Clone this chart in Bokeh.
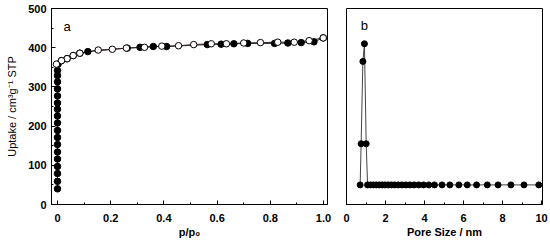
from bokeh.plotting import figure
from bokeh.layouts import row
from bokeh.models import SingleIntervalTicker, CustomJSTickFormatter, Range1d
from bokeh.core.properties import value
from bokeh.embed import file_html
from bokeh.resources import INLINE

# ---- data (panel a: N2 isotherm) ----
ads_p = [0.0]*18 + [0.002, 0.015, 0.036, 0.059, 0.084, 0.114, 0.262, 0.31, 0.36, 0.41,
                    0.563, 0.615, 0.663, 0.715, 0.816, 0.866, 0.916, 0.964, 0.999]
ads_v = [40, 59, 79, 97, 116, 134, 153, 171, 189, 208, 226, 243, 259, 277, 295, 313, 329, 342,
         358, 367, 372, 380, 386, 390, 399, 401, 403, 403,
         408, 409, 410, 411, 411, 412, 413, 415, 425]
des_p = [0.999, 0.946, 0.89, 0.828, 0.763, 0.70, 0.635, 0.578, 0.512, 0.455, 0.392,
         0.327, 0.259, 0.206, 0.153, 0.084, 0.059, 0.036, 0.015, -0.004]
des_v = [425, 418, 414, 414, 413, 412, 410, 410, 408, 405, 404,
         401, 399, 396, 394, 386, 380, 372, 367, 358]

# ---- data (panel b: pore size distribution) ----
psd_d = [0.70, 0.75, 0.84, 0.92, 1.01, 1.08, 1.23, 1.38, 1.53, 1.68, 1.83, 1.98, 2.14, 2.30,
         2.47, 2.65, 2.84, 3.04, 3.25, 3.47, 3.70, 3.95, 4.22, 4.51, 4.90, 5.30, 5.76, 6.19,
         6.67, 7.22, 7.77, 8.43, 9.10, 9.86]
psd_v = [0.10, 0.31, 0.73, 0.82, 0.31] + [0.10]*29

FONT = "Liberation Sans"

def style(p):
    p.outline_line_color = "black"
    p.outline_line_width = 1
    p.xgrid.visible = False
    p.ygrid.visible = False
    p.background_fill_color = "white"
    p.border_fill_color = "white"
    for ax in [p.xaxis[0], p.yaxis[0]]:
        ax.major_tick_in = 4
        ax.major_tick_out = 0
        ax.minor_tick_in = 2
        ax.minor_tick_out = 0
        ax.axis_line_color = "black"
        ax.major_tick_line_color = "black"
        ax.minor_tick_line_color = "black"
        ax.major_label_text_font = FONT
        ax.major_label_text_font_style = "bold"
        ax.major_label_text_font_size = "11px"
        ax.major_label_text_color = "black"
        ax.axis_label_text_font = FONT
        ax.axis_label_text_color = "black"
        ax.axis_label_text_font_size = "11px"

p1 = figure(width=336, height=246, output_backend="svg", toolbar_location=None,
            x_range=Range1d(-0.0226, 1.015), y_range=Range1d(0, 500),
            min_border_left=51, min_border_right=9, min_border_top=8, min_border_bottom=42)
style(p1)
p1.xaxis.ticker = SingleIntervalTicker(interval=0.2, num_minor_ticks=2)
p1.yaxis.ticker = SingleIntervalTicker(interval=100, num_minor_ticks=2)
p1.xaxis.formatter = CustomJSTickFormatter(code="return Math.abs(tick) < 1e-9 ? '0' : tick.toFixed(1);")
p1.xaxis.axis_label = "p/p\u2080"
p1.xaxis.axis_label_text_font_style = "bold"
p1.yaxis.axis_label = "Uptake / cm\u00b3g\u207b\u00b9 STP"
p1.yaxis.axis_label_text_font_style = "normal"
p1.xaxis.major_label_standoff = 9
p1.xaxis.axis_label_standoff = 1
p1.yaxis.major_label_standoff = 5
p1.yaxis.axis_label_standoff = 7

p1.line(ads_p, ads_v, line_color="#222222", line_width=1)
p1.line(des_p, des_v, line_color="#3a2020", line_width=1)
p1.scatter(ads_p, ads_v, size=6.5, fill_color="black", line_color="black", line_width=1)
p1.scatter(des_p, des_v, size=6.5, fill_color="white", line_color="black", line_width=1)
p1.text(x=[0.036], y=[454], text=["a"], text_font=value(FONT), text_font_size="13px",
        text_align="center", text_baseline="middle", text_color="black")

p2 = figure(width=214, height=246, output_backend="svg", toolbar_location=None,
            x_range=Range1d(0, 10.05), y_range=Range1d(0, 1),
            min_border_left=10, min_border_right=8, min_border_top=8, min_border_bottom=42)
style(p2)
p2.yaxis.visible = False
p2.xaxis.ticker = SingleIntervalTicker(interval=2, num_minor_ticks=2)
p2.xaxis.axis_label = "Pore Size / nm"
p2.xaxis.axis_label_text_font_style = "bold"
p2.xaxis.major_label_standoff = 9
p2.xaxis.axis_label_standoff = 1

p2.line(psd_d, psd_v, line_color="#444444", line_width=1)
p2.scatter(psd_d, psd_v, size=6, fill_color="black", line_color="black", line_width=1)
p2.text(x=[0.92], y=[0.913], text=["b"], text_font=value(FONT), text_font_size="13px",
        text_align="center", text_baseline="middle", text_color="black")

layout = row(p1, p2, spacing=0)
open("out.html", "w").write(file_html(layout, INLINE))
